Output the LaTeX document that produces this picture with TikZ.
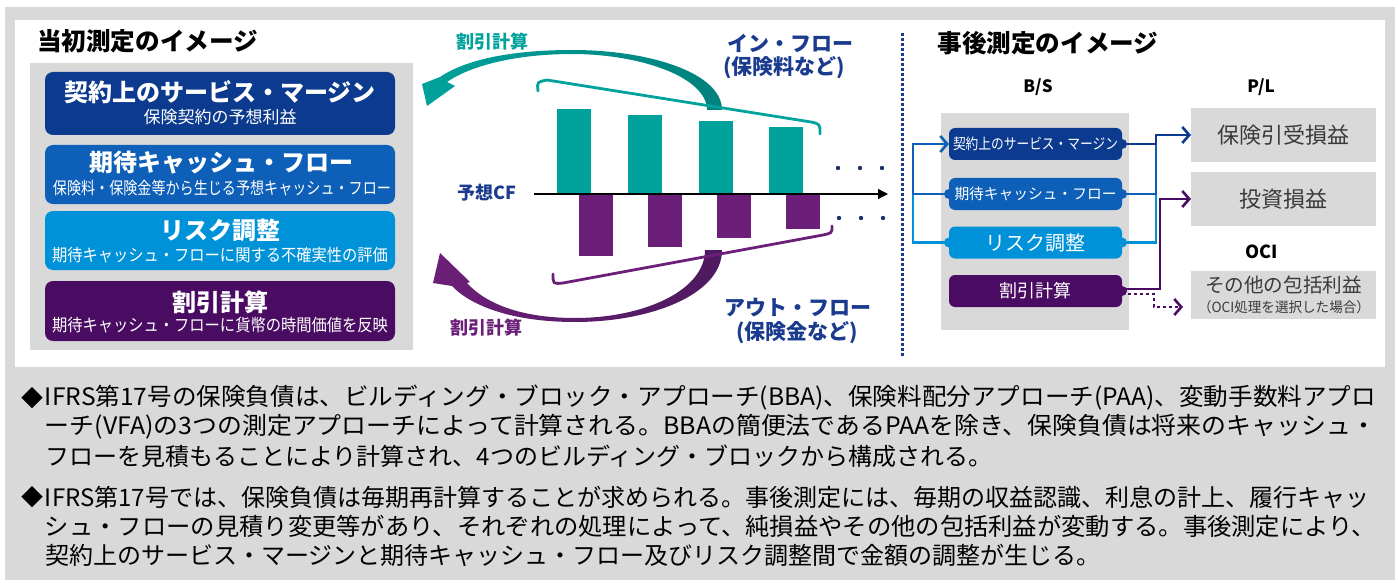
\documentclass[tikz,border=0pt]{standalone}
\usepackage{fontspec}
\setmainfont{Noto Sans CJK JP}
\usetikzlibrary{arrows.meta}
\definecolor{bggray}{HTML}{D9D9D9}
\definecolor{cnavy}{HTML}{0B3A8E}
\definecolor{cblue}{HTML}{0D5FB7}
\definecolor{csky}{HTML}{0092D8}
\definecolor{cpurp}{HTML}{4A0C62}
\definecolor{cteal}{HTML}{00A29B}
\definecolor{ctealdk}{HTML}{00817C}
\definecolor{cbarp}{HTML}{6C1F78}
\definecolor{cpurpdk}{HTML}{4E1A5E}
\definecolor{ctxt}{HTML}{1B3C8E}
\definecolor{cdots}{HTML}{1B2F6E}
\definecolor{cgraytxt}{HTML}{3A3A3A}
\newsavebox\fitbx
\newlength\fitlen
\newcommand\fitto[2]{\sbox\fitbx{#2}\fitlen=\wd\fitbx\pgfmathsetmacro\fitr{#1/\the\fitlen}\scalebox{\fitr}[1]{\usebox\fitbx}}
\newcommand\fs[1]{\fontsize{#1}{#1}\selectfont}
\begin{document}
\begin{tikzpicture}[x=0.5pt,y=-0.5pt,
  every node/.style={inner sep=0pt,outer sep=0pt},
  lbox/.style={rounded corners=4pt,minimum width=175pt},
  ltitle/.style={text=white,font=\fs{12}\bfseries},
  lsub/.style={text=white,font=\fs{8.5}},
  rbox/.style={rounded corners=3pt,minimum width=86.5pt,minimum height=16pt,text=white},
  pbox/.style={fill=bggray,minimum width=92.5pt,text=cgraytxt},
  knob/.style={radius=2.5pt},
  conn/.style={line width=1.3pt},
  chev/.style={-{Straight Barb[length=3.5pt,width=8pt,line width=1.3pt]}},
  midlbl/.style={font=\fs{10.5}\bfseries,text=ctxt},
  ptitle/.style={font=\fs{12.3}\bfseries,text=black},
  body/.style={font=\fs{12},text=black,anchor=west}]
\path[use as bounding box] (0,0) rectangle (1398,583);
\fill[bggray] (5,7) rectangle (1395,580);
\fill[white] (15,20) rectangle (1385,367);
% ---------- left part ----------
\node[ptitle,anchor=west] (ltit) at (37,41) {当初測定のイメージ};
\fill[bggray] (30,63) rectangle (413,350);
\node[lbox,fill=cnavy,minimum height=31.5pt] (L1) at (220,103.5) {};
\node[lbox,fill=cblue,minimum height=29.5pt] (L2) at (220,174.5) {};
\node[lbox,fill=csky,minimum height=29.5pt] (L3) at (220,240.5) {};
\node[lbox,fill=cpurp,minimum height=30pt] (L4) at (220,311) {};
\node[ltitle,font=\fs{12}\bfseries] (L1t) at (220,92) {契約上のサービス・マージン};
\node[lsub] (L1s) at (220,117) {保険契約の予想利益};
\node[ltitle,font=\fs{12}\bfseries] (L2t) at (221,163) {期待キャッシュ・フロー};
\node[lsub] (L2s) at (222,188) {\fitto{169pt}{保険料・保険金等から生じる予想キャッシュ・フロー}};
\node[ltitle,font=\fs{12}\bfseries] (L3t) at (220,230) {リスク調整};
\node[lsub] (L3s) at (220,255) {\fitto{168pt}{期待キャッシュ・フローに関する不確実性の評価}};
\node[ltitle,font=\fs{12}\bfseries] (L4t) at (220,302) {割引計算};
\node[lsub] (L4s) at (220,325) {\fitto{168pt}{期待キャッシュ・フローに貨幣の時間価値を反映}};
% ---------- middle part ----------
\shade[left color=cteal,right color=ctealdk]
  (722,110) .. controls (722,73) and (650,50) .. (572,50)
  .. controls (510,50) and (465,60) .. (440,77)
  -- (422,84) -- (427,106) -- (455,86) -- (447,82)
  .. controls (470,66) and (515,54) .. (572,54)
  .. controls (640,54) and (707,77) .. (707,110) -- cycle;
\shade[left color=cbarp,right color=cpurpdk]
  (705,250) .. controls (705,290) and (645,318) .. (575,318)
  .. controls (520,318) and (485,303) .. (467,283)
  -- (470,282) -- (440,253) -- (433,283) -- (452,286)
  .. controls (472,307) and (515,322) .. (575,322)
  .. controls (650,322) and (722,295) .. (722,250) -- cycle;
\foreach \xa/\ya in {557/109,628/115,699/121,769/127}
  \fill[cteal] (\xa,\ya) rectangle (\xa+34,194);
\foreach \xa/\yb in {579/256,648/247,717/238,786/229}
  \fill[cbarp] (\xa,194) rectangle (\xa+34,\yb);
\draw[cteal,line width=1.4pt,line cap=round] (538,91) .. controls (537,82) .. (547,80) -- (811,122) .. controls (820,124) .. (820,134);
\draw[cbarp,line width=1.4pt,line cap=round] (553,274) .. controls (553,284) .. (563,283) -- (823,235) .. controls (832,233) .. (832,226);
\coordinate (axs) at (534,194);
\coordinate (axe) at (888,194);
\draw[line width=0.6pt,-{Triangle[length=5pt,width=5pt]}] (axs) -- (axe);
\foreach \xd in {838,860,882} \fill[cdots] (\xd,168) circle (1.1pt);
\foreach \xd in {839,861,883} \fill[cdots] (\xd,218) circle (1.1pt);
\node[font=\fs{9}\bfseries,text=cteal] (dtop) at (492,42) {割引計算};
\node[font=\fs{9}\bfseries,text=cbarp] (dbot) at (486,328) {割引計算};
\node[font=\fs{9}\bfseries,text=ctxt] (ycf) at (487,193) {予想CF};
\node[midlbl] (inf1) at (790,43) {イン・フロー};
\node[midlbl] (inf2) at (784,68) {(保険料など)};
\node[midlbl] (outf1) at (798,308) {アウト・フロー};
\node[midlbl] (outf2) at (797,333) {(保険金など)};
\draw[ctxt,line width=1.5pt,dash pattern=on 1.5pt off 1pt] (902,33) -- (902,358);
% ---------- right part ----------
\node[ptitle] (rtit) at (1048,43) {事後測定のイメージ};
\node[font=\fs{8.5}\bfseries] (bs) at (1038,87) {B/S};
\node[font=\fs{8.5}\bfseries] (pl) at (1261,87) {P/L};
\fill[bggray] (941,113) rectangle (1129,330);
\node[rbox,fill=cnavy,font=\fs{7.5}] (B1) at (1035.5,144) {\fitto{82.5pt}{契約上のサービス・マージン}};
\node[rbox,fill=cblue,font=\fs{7.5}] (B2) at (1035.5,194) {\fitto{81pt}{期待キャッシュ・フロー}};
\node[rbox,fill=csky,font=\fs{10}] (B3) at (1035.5,242.5) {リスク調整};
\node[rbox,fill=cpurp,font=\fs{9}] (B4) at (1035.5,291) {割引計算};
\node[pbox,minimum height=27pt,font=\fs{11}] (P1) at (1283.5,135) {保険引受損益};
\node[pbox,minimum height=27pt,font=\fs{11}] (P2) at (1283.5,199) {投資損益};
\node[font=\fs{9}\bfseries] (oci) at (1262,252) {OCI};
\node[pbox,minimum height=24pt] (P3) at (1283.5,295) {};
\node[font=\fs{9.8},text=cgraytxt] (P3t) at (1283.5,285) {その他の包括利益};
\node[font=\fs{7},text=cgraytxt] (P3s) at (1284,307) {\fitto{86pt}{（OCI処理を選択した場合）}};
\coordinate (LJ) at (913,194);
\coordinate (RJ1) at (1156,144);
\coordinate (RJ2) at (1156,194);
\draw[conn,csky] (B3.west) -| (LJ);
\draw[conn,cblue,chev] (B2.west) -- (LJ) |- (B1.west);
\draw[conn,csky] (B3.east) -| (RJ2);
\draw[conn,cblue] (B2.east) -- (RJ2) -- (RJ1);
\draw[conn,cnavy,chev] (B1.east) -- (RJ1) |- (P1.west);
\draw[conn,cpurp,chev] ([yshift=1pt]B4.east) -- ++(38,0) |- (P2.west);
\draw[conn,cpurp,dash pattern=on 1.5pt off 1.5pt,-{Straight Barb[length=3.5pt,width=8pt,line width=1.3pt,sep=0pt]}] ([yshift=-1.5pt]B4.east) -- ++(32,0) |- ([yshift=-6pt,xshift=-4pt]P3.west);
\fill[cnavy] (B1.east) circle[knob];
\fill[cblue] (B2.east) circle[knob];
\fill[cblue] (B2.west) circle[knob];
\fill[csky] (B3.east) circle[knob];
\fill[csky] (B3.west) circle[knob];
\fill[cpurp] (B4.east) circle[knob];
% ---------- bottom text ----------
\node[font=\fs{11}] (d1) at (32,398) {◆};
\node[font=\fs{11}] (d2) at (32,497) {◆};
\node[body] (t1) at (45,398) {\fitto{665.5pt}{IFRS第17号の保険負債は、ビルディング・ブロック・アプローチ(BBA)、保険料配分アプローチ(PAA)、変動手数料アプロ}};
\node[body] (t2) at (45,427) {\fitto{665.5pt}{ーチ(VFA)の3つの測定アプローチによって計算される。BBAの簡便法であるPAAを除き、保険負債は将来のキャッシュ・}};
\node[body] (t3) at (45,456) {フローを見積もることにより計算され、4つのビルディング・ブロックから構成される。};
\node[body] (t4) at (45,497) {\fitto{662.5pt}{IFRS第17号では、保険負債は毎期再計算することが求められる。事後測定には、毎期の収益認識、利息の計上、履行キャッ}};
\node[body] (t5) at (45,526) {\fitto{665.5pt}{シュ・フローの見積り変更等があり、それぞれの処理によって、純損益やその他の包括利益が変動する。事後測定により、}};
\node[body] (t6) at (45,555) {契約上のサービス・マージンと期待キャッシュ・フロー及びリスク調整間で金額の調整が生じる。};
\end{tikzpicture}
\end{document}
